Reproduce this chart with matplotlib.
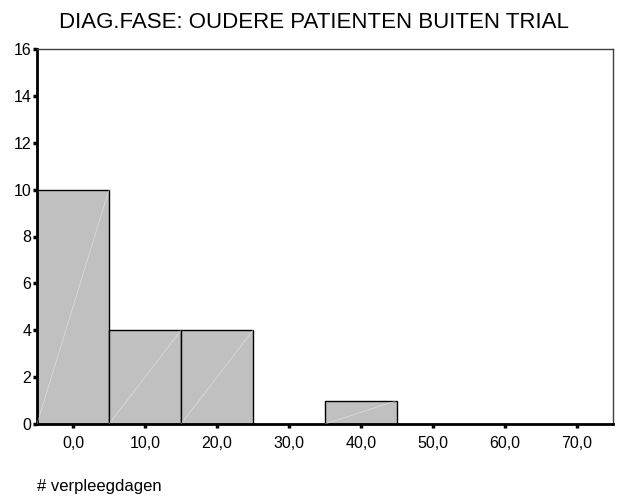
import matplotlib.pyplot as plt

plt.rcParams['font.family'] = ['Liberation Sans', 'DejaVu Sans']

# histogram of hospital days
bin_left = [-5, 5, 15, 35]
bin_width = [10, 10, 10, 10]
counts = [10, 4, 4, 1]
xticks = [0, 10, 20, 30, 40, 50, 60, 70]
xlabels = ["0,0", "10,0", "20,0", "30,0", "40,0", "50,0", "60,0", "70,0"]
yticks = [0, 2, 4, 6, 8, 10, 12, 14, 16]

fig = plt.figure(figsize=(6.19, 5.01), dpi=100)
ax = fig.add_axes([37/619, 1 - 424/501, (613-37)/619, (424-49)/501])

ax.bar(bin_left, counts, width=bin_width, align='edge', color='#c0c0c0',
       edgecolor='black', linewidth=1.0, zorder=2)
# faint diagonal in each bar
for l, w, c in zip(bin_left, bin_width, counts):
    ax.plot([l, l + w], [0, c], color='white', linewidth=0.5, alpha=0.5, zorder=3)

ax.set_xlim(-5, 75)
ax.set_ylim(0, 16)
ax.set_xticks(xticks)
ax.set_xticklabels(xlabels)
ax.set_yticks(yticks)

ax.tick_params(axis='both', direction='out', length=3, width=2.5, labelsize=11.5, color='black')
ax.tick_params(axis='x', pad=6)
ax.tick_params(axis='y', pad=1)

for s in ['left', 'bottom']:
    ax.spines[s].set_linewidth(2)
    ax.spines[s].set_color('black')
for s in ['top', 'right']:
    ax.spines[s].set_linewidth(1)
    ax.spines[s].set_color('#404040')

fig.text(314/619, 1 - 22/501, "DIAG.FASE: OUDERE PATIENTEN BUITEN TRIAL",
         ha='center', va='center', fontsize=16)
fig.text(37/619, 1 - 487/501, "# verpleegdagen", ha='left', va='center', fontsize=12)

plt.savefig("out.png", dpi=100)
